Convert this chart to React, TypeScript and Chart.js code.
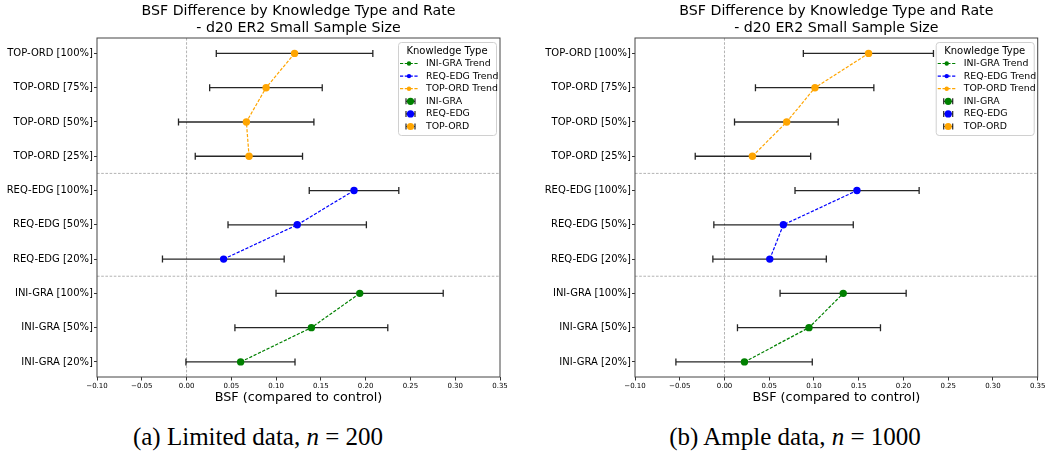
import React, { useEffect, useRef } from 'react';
import { Chart, registerables } from 'chart.js';

Chart.register(...registerables);

// ---------------- data ----------------
const CATEGORY_LABELS = [
  'INI-GRA [20%]', 'INI-GRA [50%]', 'INI-GRA [100%]',
  'REQ-EDG [20%]', 'REQ-EDG [50%]', 'REQ-EDG [100%]',
  'TOP-ORD [25%]', 'TOP-ORD [50%]', 'TOP-ORD [75%]', 'TOP-ORD [100%]',
];
const INI_POS = [0, 1, 2];
const REQ_POS = [3, 4, 5];
const TOP_POS = [6, 7, 8, 9];
const SEPARATORS = [2.5, 5.5];
const X_MIN = -0.1;
const X_MAX = 0.35;
const X_STEP = 0.05;

const TITLE_LINES = ['BSF Difference by Knowledge Type and Rate', '- d20 ER2 Small Sample Size'];
const X_TITLE = 'BSF (compared to control)';
const LEGEND_TITLE = 'Knowledge Type';
const GROUP_NAMES = ['INI-GRA', 'REQ-EDG', 'TOP-ORD'];
const GROUP_COLORS = ['#008000', '#0000ff', '#ffa500'];

// (a) Limited data, n = 200
const A_INI_MEAN = [0.0604, 0.1394, 0.1934];
const A_INI_LO = [-0.0007, 0.054, 0.0999];
const A_INI_HI = [0.1211, 0.2247, 0.2866];
const A_REQ_MEAN = [0.0414, 0.1236, 0.187];
const A_REQ_LO = [-0.0269, 0.0463, 0.137];
const A_REQ_HI = [0.109, 0.2008, 0.237];
const A_TOP_MEAN = [0.0698, 0.0668, 0.0888, 0.1206];
const A_TOP_LO = [0.0097, -0.009, 0.0258, 0.0332];
const A_TOP_HI = [0.1295, 0.1422, 0.1515, 0.208];

// (b) Ample data, n = 1000
const B_INI_MEAN = [0.0223, 0.0944, 0.1327];
const B_INI_LO = [-0.0543, 0.0145, 0.0621];
const B_INI_HI = [0.0981, 0.1743, 0.203];
const B_REQ_MEAN = [0.0506, 0.0658, 0.148];
const B_REQ_LO = [-0.013, -0.0119, 0.0788];
const B_REQ_HI = [0.1138, 0.1439, 0.2175];
const B_TOP_MEAN = [0.0312, 0.0695, 0.1011, 0.161];
const B_TOP_LO = [-0.0327, 0.0112, 0.0346, 0.0881];
const B_TOP_HI = [0.0963, 0.1271, 0.1669, 0.2335];

type Group = { name: string; color: string; pos: number[]; mean: number[]; lo: number[]; hi: number[] };

const PANEL_A: Group[] = [
  { name: GROUP_NAMES[0], color: GROUP_COLORS[0], pos: INI_POS, mean: A_INI_MEAN, lo: A_INI_LO, hi: A_INI_HI },
  { name: GROUP_NAMES[1], color: GROUP_COLORS[1], pos: REQ_POS, mean: A_REQ_MEAN, lo: A_REQ_LO, hi: A_REQ_HI },
  { name: GROUP_NAMES[2], color: GROUP_COLORS[2], pos: TOP_POS, mean: A_TOP_MEAN, lo: A_TOP_LO, hi: A_TOP_HI },
];
const PANEL_B: Group[] = [
  { name: GROUP_NAMES[0], color: GROUP_COLORS[0], pos: INI_POS, mean: B_INI_MEAN, lo: B_INI_LO, hi: B_INI_HI },
  { name: GROUP_NAMES[1], color: GROUP_COLORS[1], pos: REQ_POS, mean: B_REQ_MEAN, lo: B_REQ_LO, hi: B_REQ_HI },
  { name: GROUP_NAMES[2], color: GROUP_COLORS[2], pos: TOP_POS, mean: B_TOP_MEAN, lo: B_TOP_LO, hi: B_TOP_HI },
];

const FONT = "'DejaVu Sans', sans-serif";
const DASH = [3.2, 1.6];
const ERR_COLOR = 'rgba(0,0,0,0.85)';

const decorPlugin = {
  id: 'decor',
  beforeDatasetsDraw(chart: any, _args: any, opts: any) {
    const { ctx, chartArea: ca, scales } = chart;
    const x = scales.x, y = scales.y;
    ctx.save();
    ctx.strokeStyle = 'rgba(128,128,128,0.75)';
    ctx.lineWidth = 0.8;
    ctx.setLineDash([2.6, 1.6]);
    const x0 = x.getPixelForValue(0);
    ctx.beginPath(); ctx.moveTo(x0, ca.top); ctx.lineTo(x0, ca.bottom); ctx.stroke();
    SEPARATORS.forEach((s) => {
      const py = y.getPixelForValue(s);
      ctx.beginPath(); ctx.moveTo(ca.left, py); ctx.lineTo(ca.right, py); ctx.stroke();
    });
    ctx.setLineDash([]);
    // error bars
    ctx.strokeStyle = ERR_COLOR;
    ctx.lineWidth = 1.3;
    (opts.groups as Group[]).forEach((g) => {
      g.pos.forEach((p, i) => {
        const py = y.getPixelForValue(p);
        const a = x.getPixelForValue(g.lo[i]);
        const b = x.getPixelForValue(g.hi[i]);
        ctx.beginPath();
        ctx.moveTo(a, py); ctx.lineTo(b, py);
        ctx.moveTo(a, py - 3.5); ctx.lineTo(a, py + 3.5);
        ctx.moveTo(b, py - 3.5); ctx.lineTo(b, py + 3.5);
        ctx.stroke();
      });
    });
    ctx.restore();
  },
  afterDraw(chart: any, _args: any, opts: any) {
    const { ctx, chartArea: ca } = chart;
    ctx.save();
    // frame
    ctx.strokeStyle = '#444';
    ctx.lineWidth = 1;
    ctx.strokeRect(ca.left, ca.top, ca.right - ca.left, ca.bottom - ca.top);
    const cx = (ca.left + ca.right) / 2;
    ctx.fillStyle = '#000';
    ctx.textAlign = 'center';
    ctx.textBaseline = 'middle';
    ctx.font = `14.2px ${FONT}`;
    ctx.fillText(TITLE_LINES[0], cx, 11.5);
    ctx.fillText(TITLE_LINES[1], cx, 28);
    ctx.font = `12.8px ${FONT}`;
    ctx.fillText(X_TITLE, cx, 398);

    // legend
    const w = 98, h = 93;
    const lx = ca.right - 4 - w;
    const ly = ca.top + 4;
    ctx.fillStyle = 'rgba(255,255,255,0.85)';
    ctx.strokeStyle = '#d0d0d0';
    ctx.lineWidth = 1;
    ctx.beginPath();
    (ctx as any).roundRect(lx + 0.5, ly + 0.5, w, h, 3);
    ctx.fill();
    ctx.stroke();
    ctx.fillStyle = '#000';
    ctx.font = `10px ${FONT}`;
    ctx.fillText(LEGEND_TITLE, lx + w / 2, ly + 9);
    const groups = opts.groups as Group[];
    const hx0 = lx + 2, hx1 = lx + 20, hc = (hx0 + hx1) / 2;
    const items: { label: string; color: string; kind: string }[] = [];
    groups.forEach((g) => items.push({ label: g.name + ' Trend', color: g.color, kind: 'trend' }));
    groups.forEach((g) => items.push({ label: g.name, color: g.color, kind: 'err' }));
    items.forEach((it, i) => {
      const iy = ly + 21.5 + i * 12.6;
      if (it.kind === 'trend') {
        ctx.strokeStyle = it.color;
        ctx.lineWidth = 1.2;
        ctx.setLineDash(DASH);
        ctx.beginPath(); ctx.moveTo(hx0, iy); ctx.lineTo(hx1, iy); ctx.stroke();
        ctx.setLineDash([]);
        ctx.fillStyle = it.color;
        ctx.beginPath(); ctx.arc(hc, iy, 2.2, 0, Math.PI * 2); ctx.fill();
      } else {
        const ec = hc + 1.5;
        ctx.strokeStyle = ERR_COLOR;
        ctx.lineWidth = 1.2;
        ctx.beginPath();
        ctx.moveTo(ec - 4.5, iy); ctx.lineTo(ec + 4.5, iy);
        ctx.moveTo(ec - 4.5, iy - 3); ctx.lineTo(ec - 4.5, iy + 3);
        ctx.moveTo(ec + 4.5, iy - 3); ctx.lineTo(ec + 4.5, iy + 3);
        ctx.stroke();
        ctx.fillStyle = it.color;
        ctx.beginPath(); ctx.arc(ec, iy, 3.6, 0, Math.PI * 2); ctx.fill();
      }
      ctx.fillStyle = '#000';
      ctx.textAlign = 'left';
      ctx.font = `9.4px ${FONT}`;
      ctx.fillText(it.label, lx + 28, iy);
    });
    ctx.restore();
  },
};

function fmtTick(v: number) {
  const s = Math.abs(v).toFixed(2);
  return v < -1e-9 ? '\u2212' + s : s;
}

function Panel({ groups, width, yWidth, padRight }: { groups: Group[]; width: number; yWidth: number; padRight: number }) {
  const ref = useRef<HTMLCanvasElement>(null);
  useEffect(() => {
    if (!ref.current) return;
    const datasets: any[] = [];
    // error-bar point markers (drawn on top)
    groups.forEach((g) => {
      datasets.push({
        label: g.name,
        data: g.pos.map((p, i) => ({ x: g.mean[i], y: p })),
        showLine: false,
        pointRadius: 3.7,
        pointBackgroundColor: g.color,
        pointBorderColor: g.color,
        pointBorderWidth: 0,
      });
    });
    // trend lines
    groups.forEach((g) => {
      datasets.push({
        label: g.name + ' Trend',
        data: g.pos.map((p, i) => ({ x: g.mean[i], y: p })),
        showLine: true,
        borderColor: g.color,
        borderWidth: 1.2,
        borderDash: DASH,
        pointRadius: 2.2,
        pointBackgroundColor: g.color,
        pointBorderWidth: 0,
        tension: 0,
      });
    });
    const chart = new Chart(ref.current, {
      type: 'scatter',
      data: { datasets },
      plugins: [decorPlugin],
      options: {
        animation: false,
        responsive: false,
        events: [],
        layout: { padding: { top: 38, left: 0, right: padRight, bottom: 0 }, autoPadding: false },
        plugins: {
          legend: { display: false },
          tooltip: { enabled: false },
          title: { display: false },
          decor: { groups },
        } as any,
        scales: {
          x: {
            type: 'linear',
            min: X_MIN,
            max: X_MAX,
            afterBuildTicks: (s: any) => {
              const t: any[] = [];
              for (let i = 0; i <= Math.round((X_MAX - X_MIN) / X_STEP); i++) t.push({ value: +(X_MIN + i * X_STEP).toFixed(4) });
              s.ticks = t;
            },
            afterFit: (s: any) => { s.height = 33; },
            border: { display: false },
            grid: { display: true, drawOnChartArea: false, drawTicks: true, tickLength: 3.5, color: '#333', lineWidth: 1 },
            ticks: {
              autoSkip: false,
              maxRotation: 0,
              padding: 1.5,
              color: '#000',
              font: { family: FONT, size: 7 },
              callback: (v: any) => fmtTick(Number(v)),
            },
          },
          y: {
            type: 'linear',
            min: -0.44,
            max: 9.45,
            afterBuildTicks: (s: any) => { s.ticks = CATEGORY_LABELS.map((_, i) => ({ value: i })); },
            afterFit: (s: any) => { s.width = yWidth; },
            border: { display: false },
            grid: { display: true, drawOnChartArea: false, drawTicks: true, tickLength: 3, color: '#333', lineWidth: 1 },
            ticks: {
              autoSkip: false,
              padding: 1,
              color: '#000',
              font: { family: FONT, size: 10 },
              callback: (v: any) => CATEGORY_LABELS[Number(v)] ?? '',
            },
          },
        },
      } as any,
    });
    return () => chart.destroy();
  }, [groups, width, yWidth, padRight]);
  return <canvas ref={ref} width={width} height={410} style={{ display: 'block', width, height: 410 }} />;
}

export default function App() {
  const capStyle: React.CSSProperties = {
    position: 'absolute',
    top: 422,
    width: 400,
    textAlign: 'center',
    fontFamily: "'Liberation Serif', 'Times New Roman', serif",
    fontSize: 25,
    lineHeight: '30px',
    color: '#000',
    whiteSpace: 'nowrap',
  };
  return (
    <div style={{ position: 'absolute', left: 0, top: 0, width: 1047, height: 451, background: '#fff', overflow: 'hidden' }}>
      <div style={{ position: 'absolute', left: 0, top: 0 }}>
        <Panel groups={PANEL_A} width={523} yWidth={97} padRight={23} />
      </div>
      <div style={{ position: 'absolute', left: 523, top: 0 }}>
        <Panel groups={PANEL_B} width={524} yWidth={112} padRight={8} />
      </div>
      <div style={{ ...capStyle, left: 258 - 200 }}>
        (a) Limited data, <i>n</i> = 200
      </div>
      <div style={{ ...capStyle, left: 795 - 200 }}>
        (b) Ample data, <i>n</i> = 1000
      </div>
    </div>
  );
}
